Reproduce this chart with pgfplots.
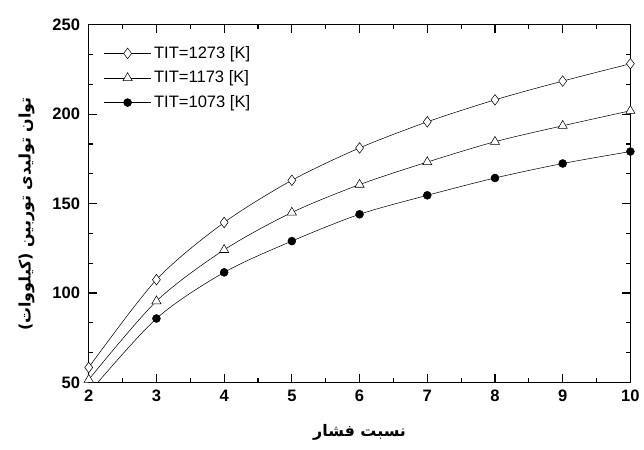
\documentclass[border=0pt]{standalone}
\usepackage{pgfplots}
\pgfplotsset{compat=1.18}
\usepackage{fontspec}
\setmainfont{Liberation Sans}
\newfontfamily\arabicfont[Script=Arabic]{DejaVu Sans}
\TeXXeTstate=1
\begin{document}
\begin{tikzpicture}
\begin{axis}[
  name=ax,
  scale only axis,
  width=409pt, height=270pt,
  xmin=2, xmax=10, ymin=50, ymax=250,
  xtick={2,3,...,10}, ytick={50,100,...,250},
  minor x tick num=1, minor y tick num=2,
  tick align=inside,
  major tick length=6pt, minor tick length=3pt,
  axis line style={line width=0.9pt},
  every tick/.style={line width=0.9pt, black},
  /pgf/number format/assume math mode=true,
  tick label style={font=\fontsize{12.5}{14}\selectfont\bfseries},
  yticklabel style={xshift=-3pt},
  xticklabel style={yshift=-2pt},
  xlabel={\arabicfont\bfseries\beginR نسبت فشار\endR},
  ylabel={\arabicfont\bfseries\beginR توان تولیدی توربین (کیلووات)\endR},
  xlabel style={font=\large, at={(axis description cs:0.5,0)}, anchor=center, yshift=-38pt},
  ylabel style={font=\large, at={(axis description cs:0,0.5)}, anchor=center, yshift=47pt, xshift=-8pt},
  legend style={at={(0.02,0.955)}, anchor=north west, draw=none, fill=none,
     font=\fontsize{12.5}{14}\selectfont, row sep=4pt},
  legend cell align=left,
  legend image code/.code={
    \draw[#1] (0cm,0cm) -- (1.25cm,0cm);
    \draw[#1, only marks] plot coordinates {(0.625cm,0cm)};
  },
  clip=true,
]
\addplot[black, thin, smooth, mark=diamond*, mark options={fill=white, scale=2}]
  coordinates {(2,58.3) (3,107.4) (4,139.4) (5,163) (6,181.1) (7,195.7) (8,208) (9,218.5) (10,228.2)};
\addlegendentry{TIT=1273 [K]}
\addplot[black, thin, smooth, mark=triangle*, mark options={fill=white, scale=2}]
  coordinates {(2,51.5) (3,95.4) (4,124.1) (5,145) (6,160.6) (7,173.2) (8,184.6) (9,193.5) (10,201.9)};
\addlegendentry{TIT=1173 [K]}
\addplot[black, thin, smooth, mark=*, mark options={fill=black, scale=1.5}]
  coordinates {(2,44) (3,85.7) (4,111.5) (5,129) (6,144) (7,154.6) (8,164.3) (9,172.4) (10,179.1)};
\addlegendentry{TIT=1073 [K]}
\end{axis}
\path (ax.south west) ++(-67pt,-51pt) coordinate (bl);
\path (ax.north east) ++(6pt,18.7pt) coordinate (tr);
\useasboundingbox (bl) rectangle (tr);
\end{tikzpicture}
\end{document}
